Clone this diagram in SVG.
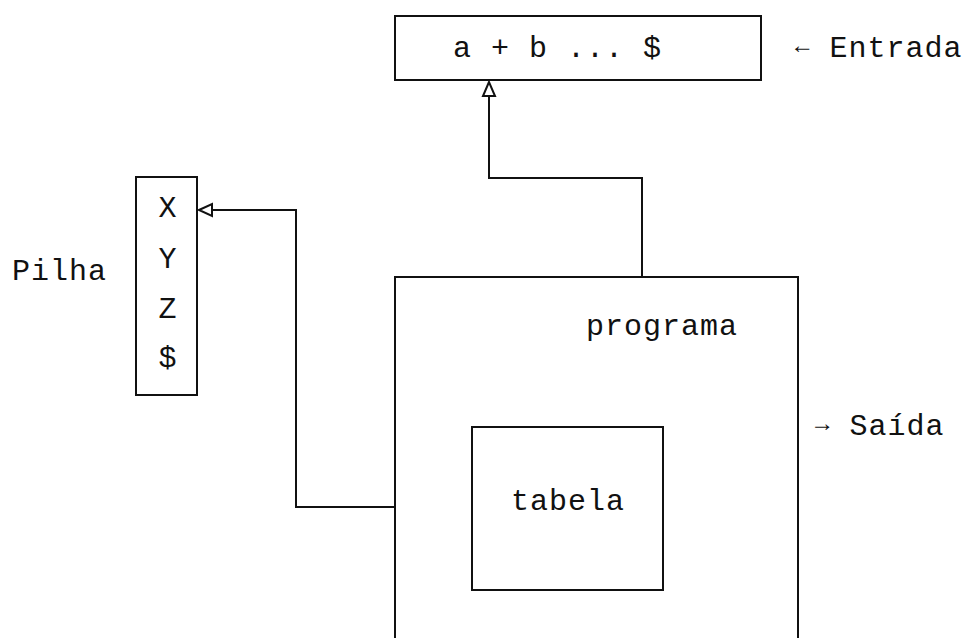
<svg xmlns="http://www.w3.org/2000/svg" width="968" height="638" viewBox="0 0 968 638">
<style>
text{font-family:"Liberation Mono","DejaVu Sans Mono",monospace;font-size:30px;letter-spacing:1px;fill:#111}
.box{fill:none;stroke:#111;stroke-width:2}
.conn{fill:none;stroke:#111;stroke-width:2}
.head{fill:#fff;stroke:#111;stroke-width:2;stroke-linejoin:miter}
.mid{text-anchor:middle}
.ar{font-size:24px}
</style>
<rect width="968" height="638" fill="#fff"/>
<g id="entrada">
<rect class="box" x="395" y="16" width="366" height="64"/>
<text x="453" y="57">a + b ... $</text>
<text x="795" y="57"><tspan class="ar" dy="-4">←</tspan><tspan dy="4"> Entrada</tspan></text>
</g>
<g id="pilha">
<rect class="box" x="136" y="177" width="61" height="218"/>
<text class="mid" x="168" y="217">X</text>
<text class="mid" x="168" y="268">Y</text>
<text class="mid" x="168" y="318">Z</text>
<text class="mid" x="168" y="367">$</text>
<text x="12" y="280">Pilha</text>
</g>
<g id="programa">
<path class="box" d="M395,638 V277 H798 V638"/>
<text x="586" y="335">programa</text>
<text x="815" y="435"><tspan class="ar" dy="-4">→</tspan><tspan dy="4"> Saída</tspan></text>
</g>
<g id="tabela">
<rect class="box" x="472" y="427" width="191" height="163"/>
<text x="511" y="510">tabela</text>
</g>
<g id="connectors">
<path class="conn" d="M642,277 V178 H489 V96"/>
<polygon class="head" points="489,82 483,96 495,96"/>
<path class="conn" d="M395,507 H296 V210 H212"/>
<polygon class="head" points="199,210 212,204 212,216"/>
</g>
</svg>
